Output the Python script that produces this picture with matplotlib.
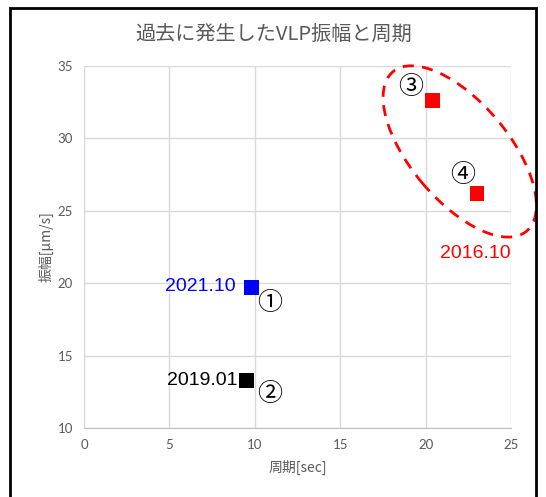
import matplotlib
matplotlib.use("Agg")
import matplotlib.pyplot as plt
import matplotlib.transforms as mtransforms
from matplotlib.patches import Ellipse, Rectangle

plt.rcParams['font.family'] = ['Noto Sans CJK JP', 'DejaVu Sans']

# データ: 周期[sec], 振幅[μm/s]
periods = [9.8, 9.5, 20.4, 23.0]
amplitudes = [19.7, 13.3, 32.6, 26.2]
colors = ['#0000ff', '#000000', '#ff0000', '#ff0000']
numbers = ['①', '②', '③', '④']
dates = ['2021.10', '2019.01', '2016.10']
date_colors = ['#0000ff', '#000000', '#ff0000']

x_ticks = [0, 5, 10, 15, 20, 25]
y_ticks = [10, 15, 20, 25, 30, 35]

grey = '#595959'
date_font = ['Liberation Sans', 'DejaVu Sans']

fig = plt.figure(figsize=(5.46, 4.97), dpi=100)
ax = fig.add_axes([0.1538, 0.1388, 0.7821, 0.7284])

ax.scatter(periods, amplitudes, marker='s', s=110, c=colors, zorder=3, linewidths=0)

ax.set_xlim(0, 25)
ax.set_ylim(10, 35)
ax.set_xticks(x_ticks)
ax.set_yticks(y_ticks)
ax.grid(True, color='#d9d9d9', linewidth=1)
ax.set_axisbelow(True)
for s in ['top', 'right', 'left']:
    ax.spines[s].set_visible(False)
ax.spines['bottom'].set_color('#bfbfbf')
ax.tick_params(length=0, colors=grey, labelsize=9.5, pad=8)
for lab in ax.get_xticklabels() + ax.get_yticklabels():
    lab.set_family(['Lato', 'DejaVu Sans'])

ax.set_xlabel('周期[sec]', color=grey, fontsize=10, labelpad=6)
ax.set_ylabel('振幅[μm/s]', color=grey, fontsize=10, labelpad=3)
fig.text(0.502, 0.928, '過去に発生したVLP振幅と周期', color=grey, fontsize=14.5,
         ha='center', va='center')

# 日付ラベル
ax.annotate(dates[0], (periods[0], amplitudes[0]), xytext=(-11, 1), textcoords='offset points',
            ha='right', va='center', color=date_colors[0], fontsize=14, family=date_font)
ax.annotate(dates[1], (periods[1], amplitudes[1]), xytext=(-6, 0), textcoords='offset points',
            ha='right', va='center', color=date_colors[1], fontsize=14, family=date_font)
ax.annotate(dates[2], (periods[3], amplitudes[3]), xytext=(-1, -43), textcoords='offset points',
            ha='center', va='center', color=date_colors[2], fontsize=14, family=date_font)

# 丸数字
num_offsets = [(13, -11), (17, -10), (-16, 10), (-10, 13)]
for px, py, n, off in zip(periods, amplitudes, numbers, num_offsets):
    ax.annotate(n, (px, py), xytext=off, textcoords='offset points',
                ha='center', va='center', fontsize=18, color='black')

# 赤い点線の楕円
trans = fig.dpi_scale_trans + mtransforms.ScaledTranslation(22.0, 29.1, ax.transData)
ell = Ellipse((0, 0), width=2.08, height=0.98, angle=-50, transform=trans,
              fill=False, edgecolor='#ff0000', linewidth=2, linestyle=(0, (4, 3)),
              clip_on=False, zorder=4)
ax.add_patch(ell)

# 外枠
fig.patches.append(Rectangle((10 / 546, -0.02), 526 / 546, 1.0 - 8 / 497 + 0.02,
                             transform=fig.transFigure, fill=False,
                             edgecolor='black', linewidth=2))

fig.savefig('out.png', dpi=100)
